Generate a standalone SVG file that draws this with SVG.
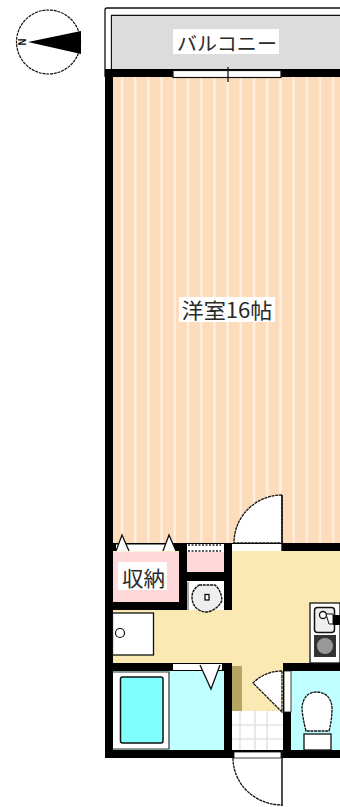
<svg xmlns="http://www.w3.org/2000/svg" width="340" height="807" viewBox="0 0 340 807">
<defs>
<style>
.w{fill:#000}
.t{font-family:"Noto Sans CJK JP","Liberation Sans",sans-serif;fill:#2a2a2a}
.l{fill:none;stroke:#111;stroke-width:1.3}
.d{fill:#fff;stroke:#111;stroke-width:1.3;stroke-dasharray:3 .7}
.g{stroke:#e4e4e4;stroke-width:1.6;fill:none}
</style>
<pattern id="st" x="112" y="0" width="13.2" height="10" patternUnits="userSpaceOnUse">
<rect width="13.2" height="10" fill="#fddcbc"/><rect x="9" width="2" height="10" fill="#fff3e6"/>
</pattern>
</defs>
<rect width="340" height="807" fill="#fff"/>
<g id="compass">
<circle cx="48.500" cy="42" r="32" fill="#fff" stroke="#111" stroke-width="1.200" stroke-dasharray="3 .8"/>
<path d="M28 42L81 31V54Z" fill="#000"/>
<text x="22" y="42" class="t" font-size="10" font-weight="700" text-anchor="middle" dominant-baseline="central" style="fill:#000" transform="rotate(90 22 42)">N</text>
</g>
<g id="balcony">
<path d="M105 77V10Q105 8 107 8H340" class="l"/>
<path d="M111.500 70V15.500H340" class="l"/>
<rect x="112" y="16" width="228" height="53" fill="#dcdcdc"/>
<rect x="173" y="29" width="106" height="25" fill="#fff"/>
<text x="227" y="42" class="t" font-size="19" text-anchor="middle" dominant-baseline="central" textLength="100" lengthAdjust="spacingAndGlyphs">バルコニー</text>
</g>
<g id="room">
<rect x="112" y="77" width="228" height="467" fill="url(#st)"/>
<rect x="179" y="297" width="96" height="25" fill="#fff"/>
<text x="227" y="309" class="t" font-size="21" text-anchor="middle" dominant-baseline="central" textLength="91" lengthAdjust="spacingAndGlyphs">洋室16帖</text>
</g>
<g id="floors">
<rect x="112" y="551" width="228" height="112" fill="#fbe9b4"/>
<rect x="232" y="663" width="52" height="48" fill="#fbe9b4"/>
<rect x="112" y="552" width="67" height="50" fill="#ffd9d9"/>
<rect x="187" y="551" width="37" height="21" fill="#ffd9d9"/>
<rect x="112" y="671" width="112" height="79" fill="#bfffff"/>
<rect x="291" y="671" width="49" height="79" fill="#bfffff"/>
<rect x="187" y="581" width="37" height="29" fill="#fff"/>
<rect x="232" y="666" width="10" height="45" fill="#b5a561"/>
</g>
<g id="tile">
<rect x="232" y="711" width="51" height="39" fill="#fff"/>
<path d="M240 711V750M255 711V750M267 711V750M232 725H283M232 739H283" class="g"/>
</g>
<g id="closet">
<rect x="118" y="562" width="49" height="28" fill="#fff"/>
<text x="143.500" y="577" class="t" font-size="21" text-anchor="middle" dominant-baseline="central" textLength="43" lengthAdjust="spacingAndGlyphs">収納</text>
</g>
<g id="walls">
<rect class="w" x="105" y="69" width="235" height="8"/>
<rect class="w" x="105" y="69" width="8" height="689"/>
<rect class="w" x="105" y="543" width="82" height="8"/>
<rect class="w" x="179" y="543" width="8" height="67"/>
<rect class="w" x="224" y="543" width="8" height="67"/>
<rect class="w" x="187" y="572" width="45" height="9"/>
<rect class="w" x="105" y="602" width="82" height="8"/>
<rect class="w" x="224" y="543" width="58" height="8"/>
<rect class="w" x="282" y="543" width="58" height="8"/>
<rect class="w" x="105" y="663" width="127" height="8"/>
<rect class="w" x="224" y="663" width="8" height="95"/>
<rect class="w" x="105" y="750" width="127" height="8"/>
<rect class="w" x="283" y="663" width="57" height="8"/>
<rect class="w" x="283" y="663" width="8" height="95"/>
<rect class="w" x="232" y="750" width="108" height="8"/>
</g>
<g id="balcony-window">
<rect x="173" y="70.500" width="108" height="7" fill="#fff" stroke="#111" stroke-width="1.200"/>
<path d="M228 67V82" stroke="#111" stroke-width="1.300"/>
</g>
<g id="closet-opening">
<rect x="116" y="544.500" width="49" height="7" fill="#fff"/>
<path d="M116 551L122 535L129 551M163 551L169 535L176 551" fill="#fff" stroke="#111" stroke-width="1.300"/>
<rect x="187" y="543" width="37" height="9" fill="#fff"/>
<path d="M188 545H221M188 551H221" stroke="#222" stroke-width="1.500" stroke-dasharray="2 1.500"/>
<rect x="187" y="543" width="37" height="1" fill="#000"/>
</g>
<g id="main-door">
<rect x="232" y="544" width="50" height="7" fill="#fff"/>
<path d="M282 543V495A48 48 0 0 0 234 543Z" class="d"/>
<path d="M282 495V551" stroke="#111" stroke-width="1.500"/>
</g>
<g id="sink">
<path d="M188 610V582" stroke="#555"/>
<path d="M199 585H215Q221 590 222 600Q220 606 213 610Q206 614 199 610Q192 606 192 597Q192 590 199 585Z" fill="#eee" stroke="#111" stroke-width="1.400" stroke-dasharray="3 .7"/>
<rect x="205" y="594.500" width="4" height="5.500" fill="#fff" stroke="#111" stroke-width="1.300"/>
</g>
<g id="fridge-counter">
<rect x="112.500" y="613" width="41" height="42" fill="#fff" stroke="#111" stroke-width="1.300"/>
<circle cx="120" cy="633" r="4.500" fill="#fff" stroke="#111" stroke-width="1.200"/>
</g>
<g id="kitchen">
<rect x="310" y="603" width="30" height="60" fill="#fff" stroke="#111" stroke-width="1.300"/>
<rect x="314.500" y="607.500" width="20" height="25" rx="3" fill="#eee" stroke="#111" stroke-width="1.500"/>
<circle cx="323" cy="615" r="3.500" fill="#fff" stroke="#111" stroke-width="1.300"/>
<path d="M326 614H333V624H329Z" fill="#fff" stroke="#111" stroke-width="1"/>
<rect x="333" y="615" width="7" height="10" fill="#000"/>
<rect x="314" y="635" width="22" height="22" fill="#333"/>
<circle cx="325" cy="646" r="8" fill="#999"/>
</g>
<g id="bath">
<rect x="113" y="672" width="56" height="77" fill="#fff"/>
<path d="M113 672H169V749H113" fill="none" stroke="#333" stroke-width="1.200"/>
<rect x="120.500" y="677" width="42.500" height="66" rx="2" fill="#80ffff" stroke="#111" stroke-width="1.500"/>
</g>
<g id="bath-door">
<rect x="173" y="664" width="49" height="6" fill="#fff"/>
<path d="M200 665L211 689L220 665" fill="#fff" stroke="#111" stroke-width="1.300"/>
</g>
<g id="entry-door">
<rect x="234" y="752" width="47" height="6" fill="#fff" stroke="#111" stroke-width=".8"/>
<path d="M233 758A49 47 0 0 0 282 805" class="d"/>
<path d="M282 751V806" stroke="#111" stroke-width="1.500"/>
</g>
<g id="toilet">
<rect x="284" y="671" width="7" height="41" fill="#fff" stroke="#111" stroke-width=".8"/>
<path d="M282 671A40 40 0 0 0 253 683L282 712Z" class="d"/>
<path d="M306 731Q302 715 302 707Q304 692 317 692Q331 693 332 708Q332 720 329 731Z" class="d"/>
<rect x="304" y="734" width="27" height="16" fill="#fff" stroke="#111" stroke-width="1.300"/>
</g>
</svg>
